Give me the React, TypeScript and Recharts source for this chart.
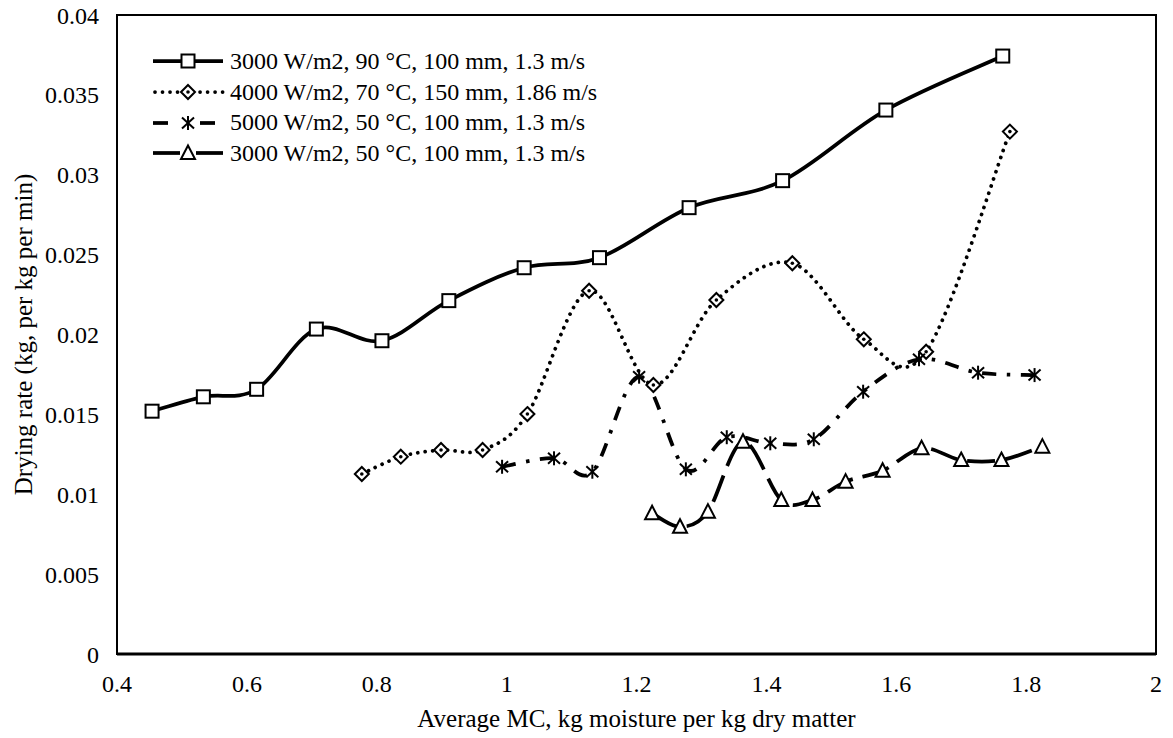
import React from 'react'
import { Legend, Line, LineChart, ReferenceArea, XAxis, YAxis } from 'recharts'

// average moisture content (x) and drying rate (y) for each run
const mc3000at90 = [0.454, 0.533, 0.615, 0.707, 0.808, 0.911, 1.027, 1.143, 1.281, 1.425, 1.584, 1.764]
const rate3000at90 = [0.0152, 0.0161, 0.01657, 0.02034, 0.01961, 0.02212, 0.02418, 0.02481, 0.02794, 0.02963, 0.03405, 0.03743]

const mc4000at70 = [0.777, 0.837, 0.899, 0.963, 1.032, 1.127, 1.226, 1.323, 1.44, 1.55, 1.646, 1.775]
const rate4000at70 = [0.01127, 0.01235, 0.01277, 0.01277, 0.01502, 0.02274, 0.01684, 0.02216, 0.02446, 0.0197, 0.01892, 0.0327]

const mc5000at50 = [0.993, 1.073, 1.132, 1.204, 1.276, 1.339, 1.406, 1.473, 1.549, 1.635, 1.726, 1.813]
const rate5000at50 = [0.01172, 0.01225, 0.01141, 0.01736, 0.01156, 0.01357, 0.01319, 0.01344, 0.01642, 0.01845, 0.01761, 0.01746]

const mc3000at50 = [1.224, 1.267, 1.31, 1.364, 1.423, 1.471, 1.522, 1.579, 1.639, 1.7, 1.762, 1.825]
const rate3000at50 = [0.00881, 0.00797, 0.00891, 0.01329, 0.00964, 0.00964, 0.01079, 0.01147, 0.01288, 0.01214, 0.01214, 0.01298]

const seriesNames = [
  '3000 W/m2, 90 °C, 100 mm, 1.3 m/s',
  '4000 W/m2, 70 °C, 150 mm, 1.86 m/s',
  '5000 W/m2, 50 °C, 100 mm, 1.3 m/s',
  '3000 W/m2, 50 °C, 100 mm, 1.3 m/s',
]

const xTicks = [0.4, 0.6, 0.8, 1, 1.2, 1.4, 1.6, 1.8, 2]
const yTicks = [0, 0.005, 0.01, 0.015, 0.02, 0.025, 0.03, 0.035, 0.04]

const zip = (xs: number[], ys: number[]) => xs.map((x, i) => ({ x, y: ys[i] }))

const FONT = '"Liberation Serif", "Times New Roman", serif'

// Excel-like smoothed line (cardinal bezier)
const excelSmooth = (context: any) => {
  let pts: number[][] = []
  return {
    areaStart() {},
    areaEnd() {},
    lineStart() {
      pts = []
    },
    lineEnd() {
      const n = pts.length
      if (!n) return
      context.moveTo(pts[0][0], pts[0][1])
      for (let i = 0; i < n - 1; i++) {
        const p0 = pts[Math.max(i - 1, 0)]
        const p1 = pts[i]
        const p2 = pts[i + 1]
        const p3 = pts[Math.min(i + 2, n - 1)]
        context.bezierCurveTo(
          p1[0] + (p2[0] - p0[0]) / 6,
          p1[1] + (p2[1] - p0[1]) / 6,
          p2[0] - (p3[0] - p1[0]) / 6,
          p2[1] - (p3[1] - p1[1]) / 6,
          p2[0],
          p2[1],
        )
      }
    },
    point(x: number, y: number) {
      pts.push([+x, +y])
    },
  }
}

function SquareMark({ cx, cy }: { cx: number; cy: number }) {
  return <rect x={cx - 6.5} y={cy - 6.5} width={13} height={13} fill="#fff" stroke="#000" strokeWidth={2} />
}

function DiamondMark({ cx, cy }: { cx: number; cy: number }) {
  return (
    <g>
      <polygon
        points={`${cx},${cy - 7} ${cx + 7},${cy} ${cx},${cy + 7} ${cx - 7},${cy}`}
        fill="#fff"
        stroke="#000"
        strokeWidth={2}
      />
      <circle cx={cx} cy={cy} r={1.8} fill="#000" />
    </g>
  )
}

function StarMark({ cx, cy }: { cx: number; cy: number }) {
  return (
    <g stroke="#000" strokeWidth={2}>
      <line x1={cx} y1={cy - 7} x2={cx} y2={cy + 7} />
      <line x1={cx - 6} y1={cy - 5.5} x2={cx + 6} y2={cy + 5.5} />
      <line x1={cx - 6} y1={cy + 5.5} x2={cx + 6} y2={cy - 5.5} />
    </g>
  )
}

function TriangleMark({ cx, cy }: { cx: number; cy: number }) {
  return (
    <polygon
      points={`${cx},${cy - 7.5} ${cx + 7},${cy + 6} ${cx - 7},${cy + 6}`}
      fill="#fff"
      stroke="#000"
      strokeWidth={2}
    />
  )
}

const marks = [SquareMark, DiamondMark, StarMark, TriangleMark]

function ChartLegend() {
  const samples = [
    <line key="a" x1={3} y1={15} x2={73} y2={15} stroke="#000" strokeWidth={3.75} />,
    <line key="b" x1={5} y1={15} x2={73} y2={15} stroke="#000" strokeWidth={3.75} strokeDasharray="0.01 7.5" strokeLinecap="round" />,
    <g key="c" stroke="#000" strokeWidth={3.75}>
      <line x1={3} y1={15} x2={18} y2={15} />
      <line x1={50} y1={15} x2={65} y2={15} />
    </g>,
    <g key="d" stroke="#000" strokeWidth={3.75}>
      <line x1={3} y1={15} x2={30} y2={15} />
      <line x1={46} y1={15} x2={73} y2={15} />
    </g>,
  ]
  return (
    <div style={{ fontFamily: FONT, fontSize: 24, color: '#000' }}>
      {seriesNames.map((name, i) => {
        const Mark = marks[i]
        return (
          <div key={name} style={{ display: 'flex', alignItems: 'center', height: 30.7, whiteSpace: 'nowrap' }}>
            <svg width={80} height={30} style={{ flex: 'none' }}>
              {samples[i]}
              <Mark cx={38} cy={15} />
            </svg>
            <span>{name}</span>
          </div>
        )
      })}
    </div>
  )
}

export default function App() {
  const series = [
    { data: zip(mc3000at90, rate3000at90), dash: undefined, cap: 'butt' },
    { data: zip(mc4000at70, rate4000at70), dash: '0.01 7.5', cap: 'round' },
    { data: zip(mc5000at50, rate5000at50), dash: '14 10.5 3.5 10.5', cap: 'butt' },
    { data: zip(mc3000at50, rate3000at50), dash: '28 10', cap: 'butt' },
  ]
  const tickStyle = { fontFamily: FONT, fontSize: 24, fill: '#000' }

  return (
    <div style={{ position: 'absolute', left: 0, top: 0, width: 1173, height: 738, background: '#fff' }}>
      <LineChart width={1173} height={738} margin={{ top: 15, right: 17, bottom: 0, left: 0 }}>
        <XAxis
          type="number"
          dataKey="x"
          domain={[0.4, 2]}
          ticks={xTicks}
          tickFormatter={(v: number) => String(v)}
          tick={tickStyle}
          tickLine={false}
          tickSize={0}
          tickMargin={21}
          height={84}
          axisLine={{ stroke: '#000', strokeWidth: 3 }}
          allowDataOverflow
          label={{
            value: 'Average MC, kg moisture per kg dry matter',
            position: 'insideBottom',
            offset: 11,
            style: { fontFamily: FONT, fontSize: 25, fill: '#000' },
          }}
        />
        <YAxis
          type="number"
          dataKey="y"
          domain={[0, 0.04]}
          ticks={yTicks}
          tickFormatter={(v: number) => String(v)}
          tick={tickStyle}
          tickLine={false}
          tickSize={0}
          tickMargin={18}
          width={117}
          axisLine={{ stroke: '#000', strokeWidth: 2 }}
          allowDataOverflow
          label={{
            value: 'Drying rate (kg, per kg per min)',
            angle: -90,
            position: 'insideLeft',
            offset: 23,
            style: { fontFamily: FONT, fontSize: 25, fill: '#000', textAnchor: 'middle' },
          }}
        />
        <ReferenceArea x1={0.4} x2={2} y1={0} y2={0.04} fill="none" stroke="#000" strokeWidth={2} />
        <Legend
          layout="vertical"
          align="center"
          verticalAlign="middle"
          content={() => <ChartLegend />}
          wrapperStyle={{ left: 150, top: 46, width: 480, height: 125 }}
        />
        {series.map((s, i) => {
          const Mark = marks[i]
          return (
            <Line
              key={seriesNames[i]}
              name={seriesNames[i]}
              data={s.data}
              dataKey="y"
              type={excelSmooth as any}
              stroke="#000"
              strokeWidth={3.75}
              strokeDasharray={s.dash}
              strokeLinecap={s.cap as any}
              dot={(p: any) => <Mark key={`m${i}-${p.index}`} cx={p.cx} cy={p.cy} />}
              activeDot={false}
              isAnimationActive={false}
            />
          )
        })}
      </LineChart>
    </div>
  )
}
